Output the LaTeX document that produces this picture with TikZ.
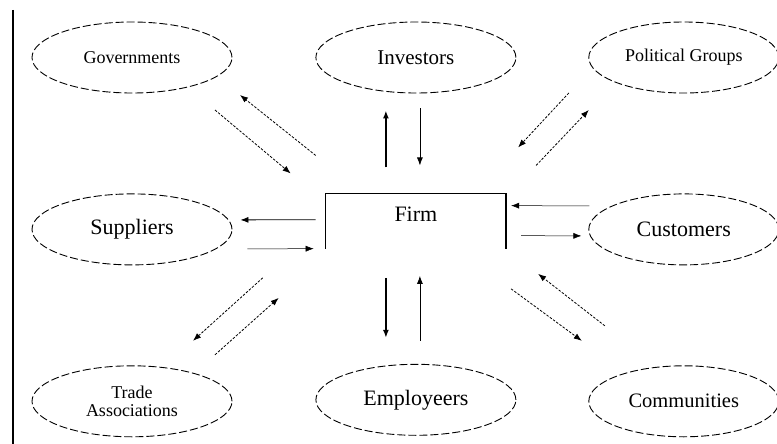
\documentclass[tikz,border=0pt]{standalone}
\usepackage{fontspec}
\setmainfont{Liberation Serif}
\usetikzlibrary{shapes.geometric, arrows.meta, positioning}
\tikzset{
  stake/.style={ellipse, draw, dash pattern=on 8pt off 3pt, line width=0.9pt, minimum width=200pt, minimum height=71pt, inner sep=1pt, align=center, font=\fontsize{#1}{#1}\selectfont},
  stake/.default=20,
  firmbox/.style={rectangle, minimum width=180pt, minimum height=55pt, text depth=14pt, font=\fontsize{22}{22}\selectfont},
  arrow/.style={-{Latex[length=8pt,width=6pt]}, line width=0.8pt},
  thickarrow/.style={arrow, line width=1.6pt},
  dasharrow/.style={arrow, dash pattern=on 2.5pt off 1.5pt},
}

\begin{document}
\begin{tikzpicture}
    \useasboundingbox (0,0) rectangle (777pt,-444pt);
    \draw[line width=1.6pt] (13pt,-10pt) -- (13pt,-444pt);
    % top row
    \node[stake=18] (gov) at (132pt,-57.5pt) {Governments};
    \node[stake=21, right=83pt of gov] (inv) {Investors};
    \node[stake=18, minimum width=190pt, right=72pt of inv] (pol) {Political Groups};
    % middle row
    \node[stake=22, below=100pt of gov] (sup) {Suppliers};
    \node[firmbox, below=100pt of inv] (firm) {Firm};
    \node[stake=22, minimum width=190pt, below=100pt of pol] (cus) {Customers};
    % bottom row
    \node[stake=18, below=100pt of sup] (trade) {Trade\\Associations};
    \node[stake=22, below=115pt of firm] (emp) {Employeers};
    \node[stake=20.5, minimum width=190pt, below=100pt of cus] (com) {Communities};
    \draw[line width=1.3pt] (firm.south west) -- (firm.north west) -- (firm.north east) -- (firm.south east);
    % governments
    \draw[dasharrow] ([shift={(-10pt,38pt)}]firm.north west) -- ([shift={(108pt,-37.5pt)}]gov.center);
    \draw[dasharrow] ([shift={(83pt,-52.5pt)}]gov.center) -- ([shift={(-35pt,20pt)}]firm.north west);
    % investors
    \draw[thickarrow] ([shift={(-30pt,26pt)}]firm.north) -- ([shift={(-30pt,-17pt)}]inv.south);
    \draw[arrow] ([shift={(4pt,-15pt)}]inv.south) -- ([shift={(4pt,28pt)}]firm.north);
    % political groups
    \draw[dasharrow] ([shift={(-115pt,-35.5pt)}]pol.center) -- ([shift={(12pt,46pt)}]firm.north east);
    \draw[dasharrow] ([shift={(30pt,28pt)}]firm.north east) -- ([shift={(-95pt,-52.5pt)}]pol.center);
    % suppliers
    \draw[arrow] ([shift={(-10pt,1.5pt)}]firm.west) -- ([shift={(8pt,9.5pt)}]sup.east);
    \draw[arrow, line width=0.5pt] ([shift={(15pt,-19.5pt)}]sup.east) -- ([shift={(-12pt,-27.5pt)}]firm.west);
    % customers
    \draw[arrow, line width=0.5pt] ([shift={(1pt,23.5pt)}]cus.west) -- ([shift={(5pt,15.5pt)}]firm.east);
    \draw[arrow, line width=0.5pt] ([shift={(15pt,-14.5pt)}]firm.east) -- ([shift={(-7pt,-6.5pt)}]cus.west);
    % trade associations
    \draw[dasharrow] ([shift={(-63pt,-29pt)}]firm.south west) -- ([shift={(61pt,60.5pt)}]trade.center);
    \draw[dasharrow] ([shift={(83pt,46.5pt)}]trade.center) -- ([shift={(-47pt,-49pt)}]firm.south west);
    % employeers
    \draw[thickarrow] ([shift={(-30pt,-29pt)}]firm.south) -- ([shift={(-30pt,26pt)}]emp.north);
    \draw[arrow] ([shift={(4pt,23pt)}]emp.north) -- ([shift={(4pt,-27pt)}]firm.south);
    % communities
    \draw[dasharrow] ([shift={(5pt,-40pt)}]firm.south east) -- ([shift={(-102pt,60.5pt)}]com.center);
    \draw[dasharrow] ([shift={(-79pt,75.5pt)}]com.center) -- ([shift={(32pt,-25pt)}]firm.south east);
  \end{tikzpicture}
\end{document}
